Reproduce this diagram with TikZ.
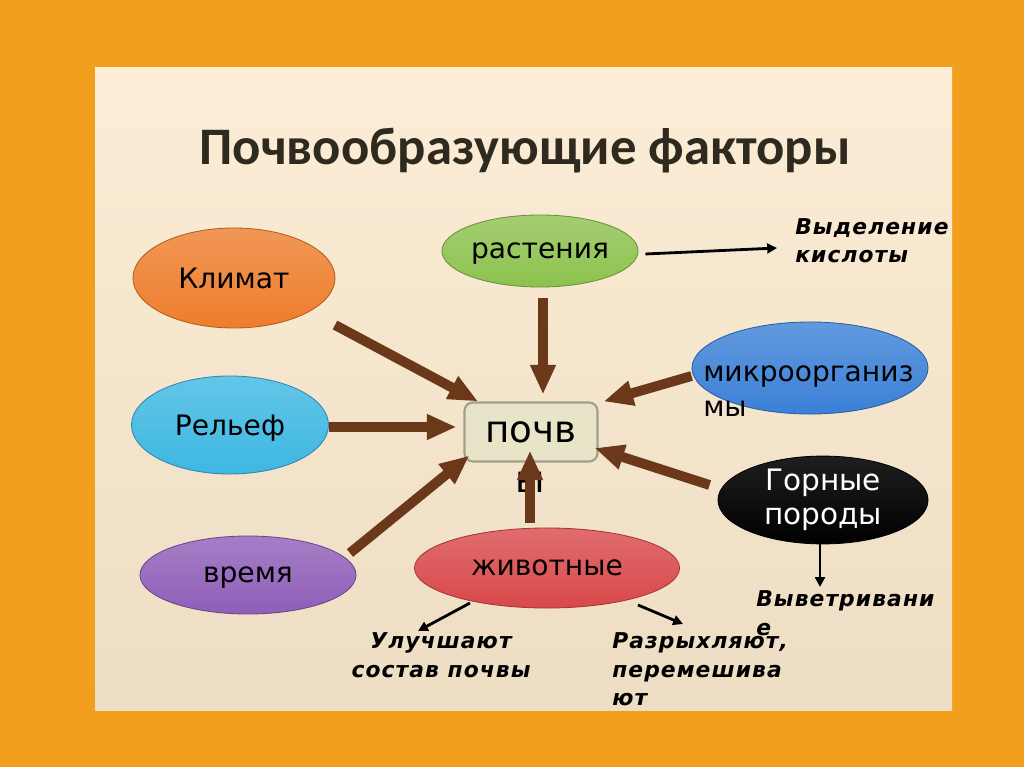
\documentclass[tikz,border=0pt]{standalone}
\usepackage{fontspec}
\usetikzlibrary{arrows.meta,shapes.geometric,calc}
\newfontfamily\ovalfont{DejaVu Sans}
\newfontfamily\labfont{DejaVu Sans Bold Oblique}[LetterSpace=5]
\newfontfamily\titlefont{Carlito Bold}
\definecolor{frameorange}{HTML}{F29F1D}
\definecolor{paneltop}{HTML}{FDEDD6}
\definecolor{panelbottom}{HTML}{ECDDC3}
\definecolor{arrowbrown}{HTML}{6B3819}
\definecolor{klimatorange}{HTML}{EE7D2C}
\definecolor{reliefcyan}{HTML}{3DB7E2}
\definecolor{timepurple}{HTML}{8F5EB8}
\definecolor{plantgreen}{HTML}{8DC24E}
\definecolor{microblue}{HTML}{3B80D6}
\definecolor{animalred}{HTML}{D9484A}
\definecolor{soilcream}{HTML}{E8E4C8}
\definecolor{titlegrey}{HTML}{2E2A20}

\begin{document}
\begin{tikzpicture}[x=0.025cm,y=-0.025cm,
  oval/.style={ellipse,inner sep=0pt,draw=#1!75!black,line width=0.6pt,
    top color=#1!80!white,bottom color=#1,text depth=0pt,
    font=\ovalfont\fontsize{20}{24}\selectfont},
  fat/.style={line width=7pt,draw=arrowbrown,-{Triangle[length=21pt,width=17pt]}},
  thin/.style={line width=2pt,-{Triangle[length=7pt,width=7pt]}},
  lab/.style={inner sep=0pt,font=\labfont\fontsize{15.5}{20.5}\selectfont}]
  \useasboundingbox (0,0) rectangle (1024,767);
  % frame and panel
  \fill[frameorange] (0,0) rectangle (1024,767);
  \shade[top color=paneltop,bottom color=panelbottom] (95,68) rectangle (952,710);
  \node[font=\titlefont\fontsize{37.5}{40}\selectfont,text=titlegrey,anchor=base]
       (title) at (525,165) {Почвообразующие факторы};
  % factors
  \node[oval=klimatorange,minimum width=5.05cm,minimum height=2.5cm] (klimat) at (234,278) {Климат};
  \node[oval=reliefcyan,minimum width=4.925cm,minimum height=2.45cm] (relief) at (230,425) {Рельеф};
  \node[oval=timepurple,minimum width=5.4cm,minimum height=1.95cm] (vremya) at (248,575) {время};
  \node[oval=plantgreen,minimum width=4.9cm,minimum height=1.8cm] (rast) at (540,251) {растения};
  \node[oval=microblue,minimum width=5.9cm,minimum height=2.3cm] (micro) at (810,368) {};
  \node[inner sep=0pt,align=left,anchor=north west,font=\ovalfont\fontsize{20}{25}\selectfont]
       (microtext) at (703,365) {микроорганиз\\мы};
  \node[oval=black,top color=black!88!white,text=white,align=center,text depth=,
       font=\ovalfont\fontsize{21}{24.5}\selectfont,
       minimum width=5.25cm,minimum height=2.15cm] (gorn) at (823,500) {Горные\\породы};
  \node[oval=animalred,minimum width=6.625cm,minimum height=2cm] (zhiv) at (547,568) {животные};
  % soil
  \node[draw=soilcream!70!black,line width=1.5pt,rounded corners=6pt,fill=soilcream,
       minimum width=3.325cm,minimum height=1.475cm,
       font=\ovalfont\fontsize{26.5}{30}\selectfont] (soil) at (531,432) {почв};
  \node[inner sep=0pt,anchor=base,font=\ovalfont\fontsize{26.5}{30}\selectfont]
       (soilend) at (530,492) {ы};
  % effects
  \node[lab,align=left,anchor=north west] (vydel) at (795,218) {Выделение\\кислоты};
  \node[lab,align=left,anchor=north west] (vyvetr) at (756,590) {Выветривани\\е};
  \node[lab,align=center,anchor=north] (uluch) at (441,632) {Улучшают\\состав почвы};
  \node[lab,align=left,anchor=north west] (razr) at (612,632) {Разрыхляют,\\перемешива\\ют};
  % fat arrows into soil
  \draw[fat] ($(klimat.center)+(101,47)$) -- (soil.150);
  \draw[fat] ($(rast.south)+(3,11)$) -- ($(soil.north)+(12,-7)$);
  \draw[fat] ($(micro.west)+(0,8)$) -- ($(soil.north east)+(5,0)$);
  \draw[fat] ($(relief.east)+(0,2)$) -- ($(soil.west)+(-7,-5)$);
  \draw[fat] ($(gorn.west)+(-8,-15)$) -- ($(soil.east)+(-4,16)$);
  \draw[fat] ($(vremya.center)+(102,-22)$) -- ($(soil.south west)+(6,-7)$);
  \draw[fat] ($(zhiv.north)+(-17,-5)$) -- ($(soil.south)+(-1,-12)$);
  % thin arrows
  \draw[thin] ($(rast.east)+(7,3)$) -- ($(vydel.north west)+(-18,30)$);
  \draw[thin] ($(gorn.south)+(-3,0)$) -- ($(vyvetr.north west)+(64,-3)$);
  \draw[thin] ($(zhiv.center)+(-77,35)$) -- ($(uluch.north)+(-23,-1)$);
  \draw[thin] ($(zhiv.center)+(91,37)$) -- ($(razr.north west)+(71,-8)$);
\end{tikzpicture}
\end{document}
